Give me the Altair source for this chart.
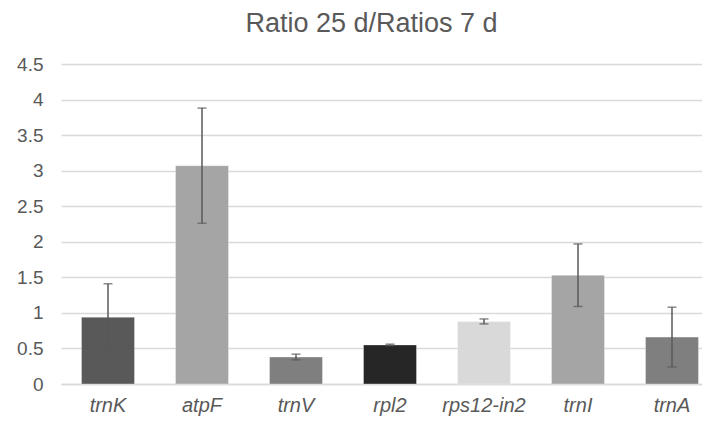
import altair as alt
import pandas as pd

genes = ["trnK", "atpF", "trnV", "rpl2", "rps12-in2", "trnI", "trnA"]
ratios = [0.94, 3.07, 0.38, 0.55, 0.88, 1.53, 0.66]
errors = [0.47, 0.81, 0.04, 0.01, 0.035, 0.44, 0.42]
colors = ["#595959", "#a5a5a5", "#7f7f7f", "#262626", "#d9d9d9", "#a5a5a5", "#7f7f7f"]
y_ticks = [0, 0.5, 1, 1.5, 2, 2.5, 3, 3.5, 4, 4.5]

df = pd.DataFrame({
    "gene": genes,
    "ratio": ratios,
    "lo": [r - e for r, e in zip(ratios, errors)],
    "hi": [r + e for r, e in zip(ratios, errors)],
    "color": colors,
})

FONT = "Liberation Sans"
TXT = "#595959"

x_scale = alt.Scale(range=[0, 658], paddingInner=0.436, paddingOuter=0.218)
x_axis = alt.Axis(title=None, labelAngle=0, labelFont=FONT, labelFontSize=20,
                  labelFontStyle="italic", labelColor=TXT, labelPadding=11,
                  ticks=False, domainColor="#d9d9d9", domainWidth=1.5, grid=False)
y_scale = alt.Scale(domain=[0, 4.5], nice=False)
y_axis = alt.Axis(title=None, values=y_ticks, labelFont=FONT, labelFontSize=19,
                  labelColor=TXT, labelPadding=18, ticks=False, domain=False,
                  gridColor="#d9d9d9", gridWidth=1.5,
                  labelExpr="format(datum.value, '~g')")

base = alt.Chart(df)

bars = base.mark_bar(stroke="#ffffff", strokeOpacity=0.35, strokeWidth=1).encode(
    x=alt.X("gene:N", sort=genes, scale=x_scale, axis=x_axis),
    y=alt.Y("ratio:Q", scale=y_scale, axis=y_axis),
    color=alt.Color("color:N", scale=None, legend=None),
)

rules = base.mark_rule(color="#595959", strokeWidth=1.5).encode(
    x=alt.X("gene:N", sort=genes, scale=x_scale, axis=x_axis),
    y=alt.Y("lo:Q", scale=y_scale, axis=y_axis),
    y2="hi:Q",
)

caps_hi = base.mark_tick(color="#595959", thickness=1.5, size=9, orient="horizontal").encode(
    x=alt.X("gene:N", sort=genes, scale=x_scale, axis=x_axis),
    y=alt.Y("hi:Q", scale=y_scale, axis=y_axis),
)
caps_lo = base.mark_tick(color="#595959", thickness=1.5, size=9, orient="horizontal").encode(
    x=alt.X("gene:N", sort=genes, scale=x_scale, axis=x_axis),
    y=alt.Y("lo:Q", scale=y_scale, axis=y_axis),
)

chart = alt.layer(bars, rules, caps_hi, caps_lo).properties(
    width=641,
    height=320,
    title=alt.TitleParams("Ratio 25 d/Ratios 7 d", font=FONT, fontSize=27, fontWeight="normal",
                          color=TXT, anchor="middle", dx=-10, offset=17),
    autosize=alt.AutoSizeParams(type="none"),
    padding={"left": 53, "top": 56, "right": 0, "bottom": 34},
).configure_view(stroke=None)

chart.save("out.html", embed_options={"renderer": "svg", "actions": False})
